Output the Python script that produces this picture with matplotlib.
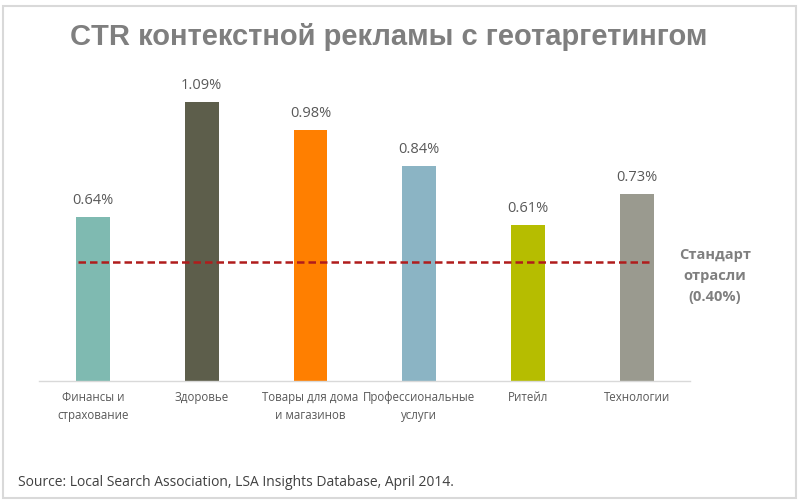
import matplotlib
matplotlib.use("Agg")
import matplotlib.pyplot as plt
from matplotlib.patches import Rectangle

categories = ["Финансы и\nстрахование", "Здоровье", "Товары для дома\nи магазинов",
              "Профессиональные\nуслуги", "Ритейл", "Технологии"]
values = [0.64, 1.09, 0.98, 0.84, 0.61, 0.73]
colors = ["#7fbab1", "#5d5e4b", "#ff7f00", "#8bb4c4", "#b6bd00", "#9a9a8f"]
standard_label = 0.40
standard_line = 0.465  # drawn position

plt.rcParams['font.family'] = ['Open Sans', 'DejaVu Sans']

fig = plt.figure(figsize=(8, 5.03), dpi=100)
fig.patch.set_facecolor("white")
fig.patches.append(Rectangle((3/800, 5/503), 793/800, 492/503, transform=fig.transFigure,
                             fill=False, edgecolor="#d9d9d9", linewidth=1.5))

ax = fig.add_axes([39/800, 122/503, 651/800, 321/503])
x = list(range(len(values)))
ax.bar(x, values, width=0.31, color=colors, zorder=2)
ax.set_xlim(-0.496, 5.49)
ax.set_ylim(0, 1.254)
for xi, v in zip(x, values):
    ax.text(xi, v + 0.035, f"{v:.2f}%", ha="center", va="bottom", fontsize=10.5, color="#595959")

ax.plot([-0.14, 5.15], [standard_line, standard_line], linestyle=(0, (3, 1.6)),
        color="#b01c1c", linewidth=1.8, zorder=3)

for s in ["top", "right", "left"]:
    ax.spines[s].set_visible(False)
ax.spines["bottom"].set_color("#d9d9d9")
ax.spines["bottom"].set_linewidth(1)
ax.set_yticks([])
ax.set_xticks(x)
ax.set_xticklabels(categories, fontsize=8.3, color="#595959", linespacing=1.5)
ax.tick_params(axis="x", length=0, pad=7)

fig.text(715/800, 1 - 276/503, f"Стандарт\nотрасли\n({standard_label:.2f}%)", ha="center", va="center",
         fontsize=10.5, fontweight="bold", color="#7f7f7f", linespacing=1.6)

fig.text(389/800, 1 - 37/503, "CTR контекстной рекламы с геотаргетингом", ha="center", va="center",
         fontsize=21, fontweight="bold", color="#7f7f7f", family=["Liberation Sans", "DejaVu Sans"])

fig.text(18/800, 1 - 483/503, "Source: Local Search Association, LSA Insights Database, April 2014.",
         ha="left", va="center", fontsize=10, color="#404040")

fig.savefig("out.png", dpi=100)
